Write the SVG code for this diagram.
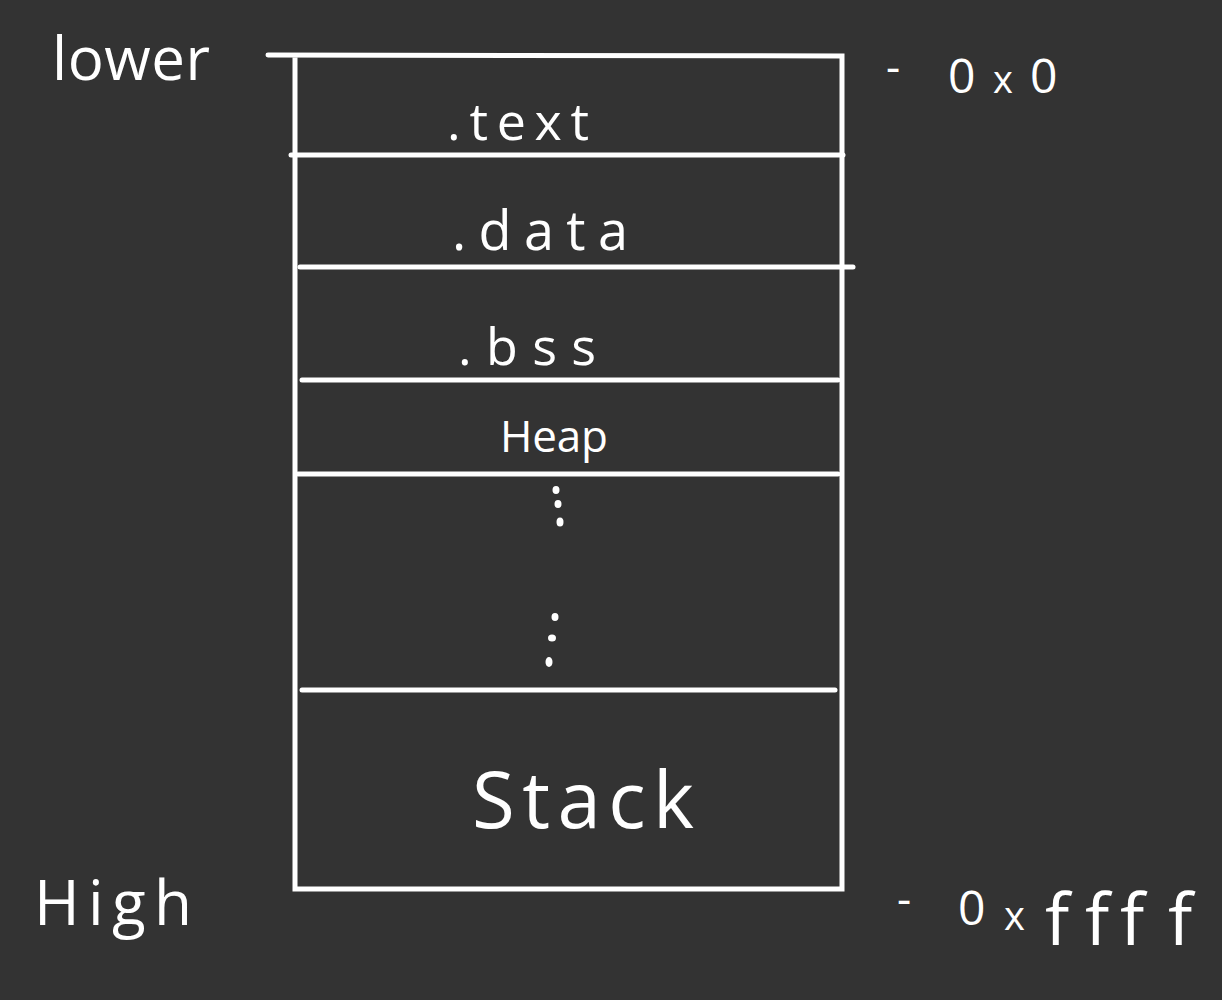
<svg xmlns="http://www.w3.org/2000/svg" width="1222" height="1000" viewBox="0 0 1222 1000">
<style>
.ln{stroke:#ffffff;stroke-width:5;stroke-linecap:round;fill:none}
.t{fill:#ffffff;font-family:"Open Sans","Noto Sans","DejaVu Sans",sans-serif;font-weight:400;font-variant-ligatures:none}
.dot{fill:#ffffff}
</style>
<rect x="0" y="0" width="1222" height="1000" fill="#333333"/>
<g id="frame">
<path class="ln" d="M295 56 L295 889 L842 889 L842 56 L268 55"/>
</g>
<g id="connectors">
<line class="ln" x1="291" y1="155" x2="843" y2="155"/>
<line class="ln" x1="300" y1="267" x2="853" y2="267"/>
<line class="ln" x1="302" y1="380" x2="838" y2="380"/>
<line class="ln" x1="298" y1="474" x2="838" y2="474"/>
<line class="ln" x1="302" y1="690" x2="835" y2="690"/>
</g>
<g id="text-seg"><text class="t" x="447" y="140" font-size="52" textLength="142" lengthAdjust="spacing">.text</text></g>
<g id="data-seg"><text class="t" x="452" y="250" font-size="54" textLength="176" lengthAdjust="spacing">.data</text></g>
<g id="bss-seg"><text class="t" x="458" y="365" font-size="52" textLength="138" lengthAdjust="spacing">.bss</text></g>
<g id="heap-seg"><text class="t" x="500" y="452" font-size="44" textLength="108" lengthAdjust="spacing">Heap</text></g>
<g id="gap-seg">
<ellipse class="dot" cx="556" cy="490" rx="3.5" ry="4"/>
<ellipse class="dot" cx="558" cy="504" rx="3.5" ry="4"/>
<ellipse class="dot" cx="560" cy="522" rx="3.5" ry="4.5"/>
<ellipse class="dot" cx="555" cy="617" rx="3.5" ry="4"/>
<ellipse class="dot" cx="552" cy="638" rx="4" ry="3.5"/>
<ellipse class="dot" cx="549" cy="662" rx="3.5" ry="5"/>
</g>
<g id="stack-seg"><text class="t" x="472" y="828" font-size="78" textLength="222" lengthAdjust="spacing">Stack</text></g>
<g id="lower-label"><text class="t" x="52" y="80" font-size="60" textLength="158" lengthAdjust="spacing">lower</text></g>
<g id="high-label"><text class="t" x="34" y="925" font-size="62" textLength="158" lengthAdjust="spacing">High</text></g>
<g id="addr-low">
<text class="t" x="886" y="82" font-size="44">-</text>
<text class="t" font-size="48" y="93"><tspan x="948">0</tspan><tspan x="993" font-size="38">x</tspan><tspan x="1030">0</tspan></text>
</g>
<g id="addr-high">
<text class="t" x="897" y="914" font-size="44">-</text>
<text class="t" font-size="48" y="925"><tspan x="958">0</tspan><tspan x="1004" y="930" font-size="40">x</tspan><tspan x="1045" y="945" font-size="72">f</tspan><tspan x="1085" font-size="72">f</tspan><tspan x="1120" font-size="72">f</tspan><tspan x="1168" font-size="72">f</tspan></text>
</g>
</svg>
